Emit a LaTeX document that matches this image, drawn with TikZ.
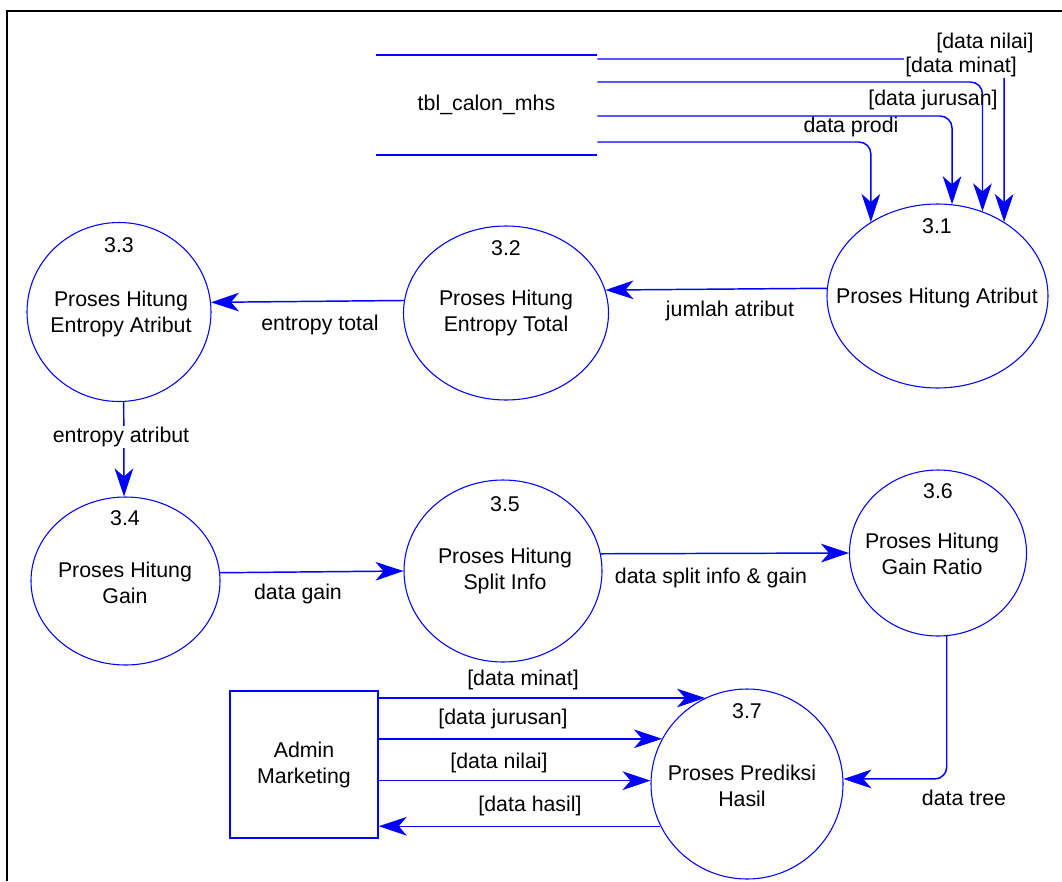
\documentclass[tikz,border=0pt]{standalone}
\usepackage{fontspec}
\setmainfont{Liberation Sans}
\usetikzlibrary{shapes.geometric,arrows.meta,calc}

\begin{document}
\begin{tikzpicture}[x=0.75pt,y=-0.75pt,
  font=\fontsize{16}{19.5}\selectfont,
  proc/.style={ellipse, draw=blue, line width=0.8pt, inner sep=0pt},
  ptext/.style={inner sep=0pt, align=center, text=black},
  flow/.style={draw=blue, line width=1.1pt, -{Stealth[length=21pt,width=14pt,inset=6pt]}},
  lbl/.style={inner sep=1pt, text=black},
  mask/.style={lbl, fill=white},
]
\useasboundingbox (0,0) rectangle (1062,881);

% outer frame
\draw[line width=2pt] (7,881) -- (7,11) -- (1062,11);

% processes (outline only; captions are set separately)
\node[proc, minimum width=165.75pt, minimum height=138pt]   (p31) at (937.5,296) {};
\node[proc, minimum width=153.75pt, minimum height=130.5pt] (p32) at (506,313)   {};
\node[proc, minimum width=138pt,    minimum height=134.25pt](p33) at (119,312)   {};
\node[proc, minimum width=141.75pt, minimum height=126pt]   (p34) at (125.5,581) {};
\node[proc, minimum width=148.5pt,  minimum height=136.5pt] (p35) at (503,571)   {};
\node[proc, minimum width=132.75pt, minimum height=124.5pt] (p36) at (938,553)   {};
\node[proc, minimum width=144pt,    minimum height=142.5pt] (p37) at (747,784)   {};

% process captions
\node[ptext] (t31) at (937,298) {Proses Hitung Atribut};
\node[ptext] (t32) at (506,313) {Proses Hitung\\Entropy Total};
\node[ptext] (t33) at (121,314) {Proses Hitung\\Entropy Atribut};
\node[ptext] (t34) at (125,583) {Proses Hitung\\Gain};
\node[ptext] (t35) at (505,571) {Proses Hitung\\Split Info};
\node[ptext] (t36) at (932,554) {Proses Hitung\\Gain Ratio};
\node[ptext] (t37) at (742,786) {Proses Prediksi\\Hasil};

% process numbers
\node[lbl] (n31) at (937,226) {3.1};
\node[lbl] (n32) at (506,248) {3.2};
\node[lbl] (n33) at (119,245) {3.3};
\node[lbl] (n34) at (125,518) {3.4};
\node[lbl] (n35) at (505,504) {3.5};
\node[lbl] (n36) at (938,491) {3.6};
\node[lbl] (n37) at (747,711) {3.7};

% data store
\node[minimum width=165.75pt, minimum height=75pt, inner sep=0pt] (store) at (486.5,105) {tbl\_calon\_mhs};
\draw[blue, line width=1.5pt] (store.north west) -- (store.north east)
                              (store.south west) -- (store.south east);

% external entity
\node[draw=blue, line width=1.1pt, minimum width=111pt, minimum height=110.25pt,
      inner sep=0pt, align=center] (admin) at (304,764.5) {Admin\\Marketing};

% flows from the data store
\draw[flow, rounded corners=9pt] ($(store.east)+(0,-46)$) -| (p31.48.2);
\draw[flow, rounded corners=9pt] ($(store.east)+(0,-23)$) -| (p31.62.8);
\draw[flow, rounded corners=9pt] ($(store.east)+(0,11)$)  -| (p31.81.6);
\draw[flow, rounded corners=9pt] ($(store.east)+(0,37)$)  -| (p31.132.8);

% flows between processes
\draw[flow] (p31.176.4) -- (p32.13.7);
\draw[flow] (p32.173.8) -- (p33.6.24);
\draw[flow] (p33.273.2) -- (p34.91);
\draw[flow] (p34.5.47)  -- (p35.180.6);
\draw[flow] (p35.10.5)  -- (p36.180);
\draw[flow, rounded corners=9pt] (p36.276.9) |- (p37.3.6);

% flows with the external entity
\draw[flow] (admin.east |- p37.116.8) -- (p37.116.8);
\draw[flow] (admin.east |- p37.152.7) -- (p37.152.7);
\draw[flow] (admin.east |- p37.178.8) -- (p37.178.8);
\draw[flow] (p37.206) -- (admin.east |- p37.206);

% flow labels
\node[lbl]  (l1)  at (985,43)  {[data nilai]};
\node[mask] (l2)  at (961,67)  {[data minat]};
\node[lbl]  (l3)  at (933,100) {[data jurusan]};
\node[lbl]  (l4)  at (851,127) {data prodi};
\node[lbl]  (l5)  at (730,311) {jumlah atribut};
\node[lbl]  (l6)  at (320,325) {entropy total};
\node[mask] (l7)  at (121,437) {entropy atribut};
\node[lbl]  (l8)  at (298,594) {data gain};
\node[lbl]  (l9)  at (711,578) {data split info \& gain};
\node[lbl]  (l10) at (964,798) {data tree};
\node[lbl]  (l11) at (523,680) {[data minat]};
\node[lbl]  (l12) at (503,719) {[data jurusan]};
\node[lbl]  (l13) at (499,763) {[data nilai]};
\node[lbl]  (l14) at (530,806) {[data hasil]};
\end{tikzpicture}
\end{document}
